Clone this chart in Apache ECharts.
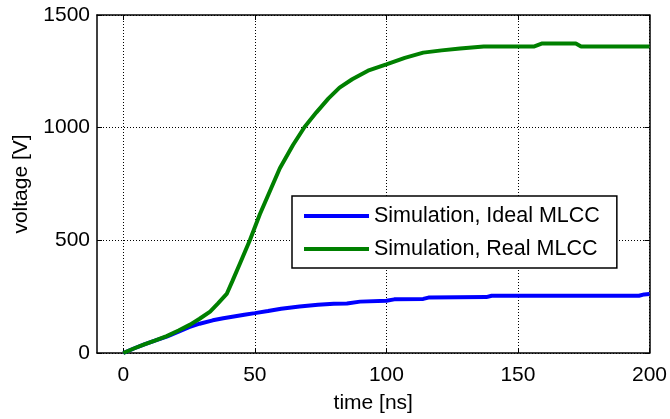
<!DOCTYPE html>
<html>
<head>
<meta charset="utf-8">
<script src="https://cdn.jsdelivr.net/npm/echarts@6/dist/echarts.min.js"></script>
<style>
  html, body { margin: 0; padding: 0; background: #fff; }
  #chart { width: 670px; height: 419px; }
</style>
</head>
<body>
<div id="chart"></div>
<script>
// ideal MLCC simulation
var idealTime = [0, 4, 8, 12, 16.5, 21, 25, 29, 34, 38, 42, 46, 50, 55, 60, 67, 74, 80, 85, 90, 100, 103, 114, 116, 138, 140, 196, 198, 200];
var idealVolt = [0, 20, 38, 55, 73, 95, 115, 130, 145, 154, 162, 170, 177, 186, 196, 206, 214, 219, 220, 228, 232, 238, 240, 246, 248, 254, 254, 260, 262];
// real MLCC simulation
var realTime = [0, 4, 8, 12, 16.5, 21, 25.4, 29, 33, 36, 39.3, 41.5, 44.3, 48.1, 51.9, 55.7, 59.5, 64.5, 68.9, 73.4, 78, 82.2, 87, 93, 100, 107, 114, 121, 128, 137, 146, 156, 159, 172, 174, 200];
var realVolt = [0, 20, 38, 55, 75, 100, 126, 152, 184, 220, 262, 320, 396, 500, 616, 718, 820, 923, 1003, 1068, 1130, 1178, 1215, 1253, 1281, 1310, 1333, 1343, 1351, 1360, 1360, 1360, 1373, 1373, 1360, 1360];

var xTicks = [0, 50, 100, 150, 200];

function pairs(xs, ys) {
  return xs.map(function (x, i) { return [x, ys[i]]; });
}

var font = 'Liberation Sans, Arial, sans-serif';
var gridLine = { show: true, lineStyle: { color: '#000', width: 1, type: [1, 2] } };
var boxLine = { show: true, onZero: false, lineStyle: { color: '#000', width: 1.5 } };

var chart = echarts.init(document.getElementById('chart'));
chart.setOption({
  animation: false,
  textStyle: { fontFamily: font, color: '#000' },
  grid: { left: 97, right: 19, top: 15, bottom: 62, containLabel: false },
  legend: {
    orient: 'vertical',
    left: 292,
    top: 196,
    icon: 'rect',
    itemWidth: 65,
    itemHeight: 4,
    itemGap: 11,
    padding: [9, 17, 8, 12],
    borderColor: '#000',
    borderWidth: 1.5,
    backgroundColor: '#fff',
    textStyle: { fontFamily: font, fontSize: 21.5, color: '#000' },
    data: ['Simulation, Ideal MLCC', 'Simulation, Real MLCC']
  },
  xAxis: [{
    type: 'value',
    min: -10,
    max: 200,
    name: 'time [ns]',
    nameLocation: 'middle',
    nameGap: 40,
    nameTextStyle: { fontFamily: font, fontSize: 21, color: '#000' },
    axisLine: boxLine,
    axisTick: { inside: true, length: 5, customValues: xTicks, lineStyle: { color: '#000' } },
    axisLabel: { customValues: xTicks, margin: 12, fontSize: 21, color: '#000', fontFamily: font },
    splitLine: gridLine
  }, {
    type: 'value',
    position: 'top',
    min: -10,
    max: 200,
    axisLine: boxLine,
    axisTick: { inside: true, length: 5, customValues: xTicks, lineStyle: { color: '#000' } },
    axisLabel: { show: false },
    splitLine: { show: false }
  }],
  yAxis: [{
    type: 'value',
    min: 0,
    max: 1500,
    interval: 500,
    name: 'voltage [V]',
    nameLocation: 'middle',
    nameGap: 65,
    nameTextStyle: { fontFamily: font, fontSize: 21, color: '#000' },
    axisLine: boxLine,
    axisTick: { show: true, inside: true, length: 5, lineStyle: { color: '#000' } },
    axisLabel: {
      margin: 7, fontSize: 21, color: '#000', fontFamily: font,
      formatter: function (v) { return String(v); }
    },
    splitLine: gridLine
  }, {
    type: 'value',
    position: 'right',
    min: 0,
    max: 1500,
    interval: 500,
    axisLine: boxLine,
    axisTick: { show: true, inside: true, length: 5, lineStyle: { color: '#000' } },
    axisLabel: { show: false },
    splitLine: { show: false }
  }],
  series: [{
    name: 'Simulation, Ideal MLCC',
    type: 'line',
    data: pairs(idealTime, idealVolt),
    showSymbol: false,
    color: '#0000ff',
    lineStyle: { width: 4, color: '#0000ff' },
    z: 3
  }, {
    name: 'Simulation, Real MLCC',
    type: 'line',
    data: pairs(realTime, realVolt),
    showSymbol: false,
    color: '#008000',
    lineStyle: { width: 4, color: '#008000' },
    z: 4
  }]
});
</script>
</body>
</html>
